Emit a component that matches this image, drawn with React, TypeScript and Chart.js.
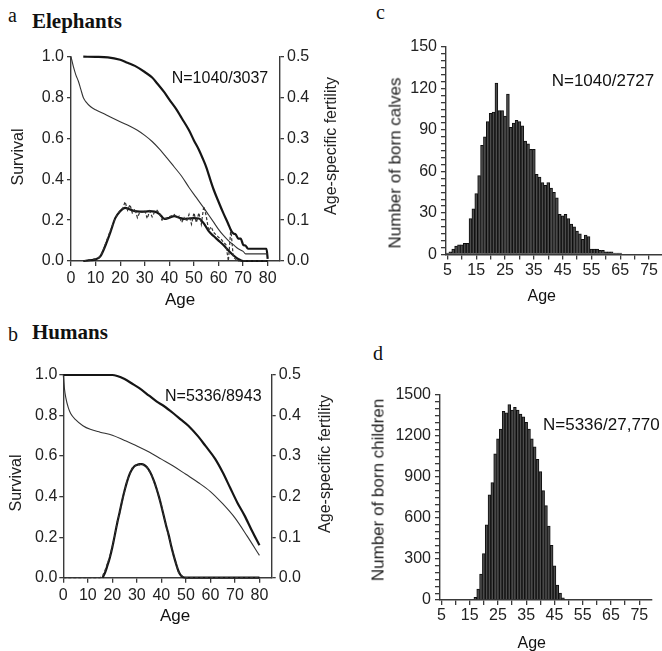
import React, { useEffect, useRef } from 'react';
import { Chart, registerables } from 'chart.js';

Chart.register(...registerables);

// ---------- Panel a: Elephants ----------
const eleBirthAge = [0, 1, 2, 3, 4, 5, 6, 8, 10, 13, 16, 20, 24, 27, 30, 33, 36, 39, 42, 45, 48, 51, 54, 56, 58, 60, 62, 64, 66, 68, 70, 71, 80];
const eleBirthSurv = [1.0, 0.95, 0.91, 0.88, 0.84, 0.8, 0.78, 0.755, 0.74, 0.723, 0.705, 0.682, 0.66, 0.64, 0.615, 0.585, 0.548, 0.505, 0.46, 0.415, 0.36, 0.31, 0.26, 0.225, 0.19, 0.155, 0.125, 0.1, 0.08, 0.06, 0.047, 0.035, 0.035];

const eleAdultAge = [5, 10, 15, 20, 23, 26, 30, 33, 35, 38, 40, 43, 45, 48, 50, 52, 54, 55, 57, 58, 60, 62, 64, 65, 66, 67, 68, 69, 70, 71, 72, 79.5, 80];
const eleAdultSurv = [1.0, 0.999, 0.997, 0.985, 0.97, 0.955, 0.925, 0.898, 0.87, 0.825, 0.79, 0.74, 0.7, 0.64, 0.59, 0.545, 0.49, 0.46, 0.385, 0.35, 0.29, 0.233, 0.18, 0.152, 0.135, 0.13, 0.11, 0.11, 0.08, 0.075, 0.06, 0.06, 0.01];

const eleFertAge = [5, 8, 10, 12, 14, 16, 18, 20, 22, 24, 26, 28, 30, 32, 34, 36, 38, 40, 42, 44, 46, 48, 50, 52, 54, 56, 58, 60, 62, 64, 66, 68, 70, 75, 80];
const eleFertSmooth = [0, 0.002, 0.004, 0.012, 0.038, 0.07, 0.105, 0.122, 0.13, 0.126, 0.122, 0.121, 0.121, 0.122, 0.121, 0.115, 0.103, 0.106, 0.11, 0.106, 0.103, 0.104, 0.105, 0.104, 0.092, 0.073, 0.061, 0.05, 0.039, 0.026, 0.014, 0.005, 0, 0, 0];

const eleFertRawAge = [5, 6, 7, 8, 9, 10, 11, 12, 13, 14, 15, 16, 17, 18, 19, 20, 21, 22, 23, 24, 25, 26, 27, 28, 29, 30, 31, 32, 33, 34, 35, 36, 37, 38, 39, 40, 41, 42, 43, 44, 45, 46, 47, 48, 49, 50, 51, 52, 53, 54, 55, 56, 57, 58, 59, 60, 61, 62, 63, 64, 65, 66, 67, 68, 69, 70, 80];
const eleFertRaw = [0, 0.001, 0.002, 0.003, 0.004, 0.005, 0.007, 0.012, 0.025, 0.042, 0.058, 0.074, 0.09, 0.104, 0.116, 0.124, 0.128, 0.145, 0.124, 0.138, 0.116, 0.128, 0.106, 0.12, 0.119, 0.124, 0.104, 0.122, 0.108, 0.12, 0.124, 0.116, 0.1, 0.104, 0.104, 0.108, 0.111, 0.114, 0.106, 0.11, 0.094, 0.106, 0.097, 0.114, 0.09, 0.118, 0.094, 0.118, 0.09, 0.134, 0.11, 0.074, 0.084, 0.07, 0.064, 0.058, 0.054, 0.046, 0.04, 0.0, 0.078, 0.01, 0.004, 0, 0, 0, 0];

// ---------- Panel b: Humans ----------
const humBirthAge = [0, 0.5, 1, 2, 3, 5, 8, 11, 15, 20, 25, 30, 35, 40, 45, 50, 55, 60, 65, 70, 75, 80];
const humBirthSurv = [1.0, 0.93, 0.89, 0.84, 0.81, 0.78, 0.75, 0.732, 0.718, 0.703, 0.677, 0.65, 0.62, 0.585, 0.55, 0.51, 0.47, 0.425, 0.365, 0.295, 0.205, 0.11];

const humAdultAge = [0, 20, 22, 25, 28, 31, 35, 38, 41, 45, 48, 51, 55, 58, 62, 65, 68, 71, 74, 77, 80];
const humAdultSurv = [1, 1, 0.995, 0.98, 0.958, 0.935, 0.898, 0.87, 0.847, 0.81, 0.78, 0.75, 0.697, 0.65, 0.585, 0.52, 0.445, 0.37, 0.305, 0.23, 0.16];

const humFertAge = [16, 17, 18, 19, 20, 21, 22, 23, 24, 25, 26, 27, 28, 29, 30, 31, 32, 33, 34, 35, 36, 37, 38, 39, 40, 41, 42, 43, 44, 45, 46, 47, 48, 49, 50, 80];
const humFertSmooth = [0, 0.012, 0.03, 0.05, 0.075, 0.105, 0.135, 0.162, 0.19, 0.215, 0.237, 0.255, 0.267, 0.275, 0.278, 0.28, 0.28, 0.278, 0.273, 0.265, 0.253, 0.238, 0.22, 0.2, 0.177, 0.152, 0.127, 0.105, 0.078, 0.055, 0.034, 0.016, 0.005, 0.001, 0, 0];

const humFertRawAge = [0, 15, 16, 17, 18, 19, 20, 21, 22, 23, 24, 25, 26, 27, 28, 29, 30, 31, 32, 33, 34, 35, 36, 37, 38, 39, 40, 41, 42, 43, 44, 45, 46, 47, 48, 49, 50, 80];
const humFertRaw = [0, 0, 0.004, 0.018, 0.035, 0.053, 0.078, 0.104, 0.138, 0.16, 0.192, 0.213, 0.24, 0.253, 0.27, 0.273, 0.281, 0.278, 0.282, 0.276, 0.275, 0.263, 0.255, 0.236, 0.222, 0.198, 0.18, 0.15, 0.128, 0.102, 0.08, 0.054, 0.036, 0.013, 0.007, 0.002, 0, 0];

const survTicks = [0, 0.2, 0.4, 0.6, 0.8, 1.0];
const fertTicks = [0, 0.1, 0.2, 0.3, 0.4, 0.5];
const ageTicks = [0, 10, 20, 30, 40, 50, 60, 70, 80];

// ---------- Panels c, d: histograms ----------
const histAges = [5, 6, 7, 8, 9, 10, 11, 12, 13, 14, 15, 16, 17, 18, 19, 20, 21, 22, 23, 24, 25, 26, 27, 28, 29, 30, 31, 32, 33, 34, 35, 36, 37, 38, 39, 40, 41, 42, 43, 44, 45, 46, 47, 48, 49, 50, 51, 52, 53, 54, 55, 56, 57, 58, 59, 60, 61, 62, 63, 64, 65, 66, 67, 68, 69, 70, 71, 72, 73, 74, 75, 76, 77, 78, 79];
const calves = [1, 2, 4, 6, 7, 7, 8, 8, 26, 33, 44, 57, 79, 85, 96, 102, 103, 124, 104, 104, 100, 116, 92, 95, 97, 96, 93, 82, 80, 76, 76, 58, 56, 52, 50, 52, 48, 45, 41, 29, 28, 29, 26, 22, 20, 17, 15, 11, 14, 13, 4, 4, 4, 3, 3, 2, 2, 2, 1, 1, 1, 0, 0, 0, 0, 0, 0, 0, 0, 0, 0, 0, 0, 0, 0];
const children = [0, 0, 0, 0, 0, 0, 0, 0, 0, 0, 0, 0, 20, 80, 190, 340, 550, 770, 860, 1070, 1180, 1250, 1380, 1370, 1430, 1390, 1410, 1390, 1360, 1340, 1300, 1250, 1180, 1120, 1030, 940, 800, 690, 540, 400, 250, 110, 50, 15, 0, 0, 0, 0, 0, 0, 0, 0, 0, 0, 0, 0, 0, 0, 0, 0, 0, 0, 0, 0, 0, 0, 0, 0, 0, 0, 0, 0, 0, 0, 0];
const calvesLabelTicks = [0, 30, 60, 90, 120, 150];
const childrenLabelTicks = [0, 300, 600, 900, 1200, 1500];

const SANS = '"Liberation Sans", Arial, Helvetica, sans-serif';
const SERIF = '"Liberation Serif", "Times New Roman", serif';
const AX = '#3a3a3a';
const TXT = '#222';

const pts = (xs: number[], ys: number[]) => xs.map((x, i) => ({ x, y: ys[i] }));
const setTicks = (vals: number[]) => (s: any) => {
  s.ticks = vals.map((v) => ({ value: v }));
};
const minorTicks = (max: number, step: number) => {
  const out: number[] = [];
  for (let v = 0; v <= max + 1e-9; v += step) out.push(Math.round(v));
  return out;
};

function axisBase(size: number, tickLength: number, pad: number) {
  return {
    grid: { drawOnChartArea: false, drawTicks: true, tickLength, color: AX, lineWidth: 1.3 },
    border: { display: true, color: AX, width: 1.4 },
    ticks: { color: TXT, font: { family: SANS, size }, padding: pad, maxRotation: 0, minRotation: 0, autoSkip: false },
  };
}

function survivalConfig(d: any, geo: any) {
  const xb = axisBase(16, 5, 3);
  const yb = axisBase(16, 4, 3);
  const y2b = axisBase(16, 4, 3);
  return {
    type: 'line',
    data: {
      datasets: [
        { data: pts(d.birthAge, d.birthSurv), yAxisID: 'y', borderColor: '#333', borderWidth: 1.1, cubicInterpolationMode: 'monotone', clip: false },
        { data: pts(d.adultAge, d.adultSurv), yAxisID: 'y', borderColor: '#151515', borderWidth: 2.2, cubicInterpolationMode: 'monotone', clip: false },
        { data: pts(d.rawAge, d.raw), yAxisID: 'y2', borderColor: '#333', borderWidth: 1.2, borderDash: [3, 2], tension: 0, clip: false },
        { data: pts(d.fertAge, d.fert), yAxisID: 'y2', borderColor: '#151515', borderWidth: 2.2, cubicInterpolationMode: 'monotone', clip: false },
      ],
    },
    options: {
      responsive: false,
      animation: false,
      events: [],
      layout: { padding: { top: geo.top, left: 0, right: 0, bottom: 0 } },
      plugins: { legend: { display: false }, tooltip: { enabled: false }, title: { display: false } },
      elements: { point: { radius: 0 } },
      scales: {
        x: {
          type: 'linear', min: 0, max: 85, position: 'bottom',
          afterBuildTicks: setTicks(ageTicks),
          afterFit: (s: any) => { s.height = geo.xh; },
          ...xb,
          ticks: { ...xb.ticks, callback: (v: number) => String(v) },
        },
        y: {
          type: 'linear', min: 0, max: 1, position: 'left',
          afterBuildTicks: setTicks(survTicks),
          afterFit: (s: any) => { s.width = geo.yw; },
          ...yb,
          ticks: { ...yb.ticks, padding: geo.ypad, callback: (v: number) => v.toFixed(1) },
        },
        y2: {
          type: 'linear', min: 0, max: 0.5, position: 'right',
          afterBuildTicks: setTicks(fertTicks),
          afterFit: (s: any) => { s.width = geo.y2w; },
          ...y2b,
          ticks: { ...y2b.ticks, callback: (v: number) => v.toFixed(1) },
        },
      },
    },
  };
}

function histConfig(values: number[], yMax: number, minorStep: number, labelTicks: number[], geo: any) {
  const xb = axisBase(16, 5, 1);
  const yb = axisBase(16, 5, 4);
  return {
    type: 'bar',
    data: {
      labels: histAges.map(String),
      datasets: [
        {
          data: values,
          backgroundColor: '#4c4c4c',
          borderColor: '#0e0e0e',
          borderWidth: 1,
          barPercentage: 1,
          categoryPercentage: 1,
        },
      ],
    },
    options: {
      responsive: false,
      animation: false,
      events: [],
      layout: { padding: { top: geo.top, left: 0, right: geo.right, bottom: 0 } },
      plugins: { legend: { display: false }, tooltip: { enabled: false }, title: { display: false } },
      scales: {
        x: {
          type: 'category',
          afterFit: (s: any) => { s.height = geo.xh; },
          ...xb,
          grid: {
            ...xb.grid,
            offset: false,
            tickColor: (ctx: any) => (histAges[ctx.index] % 5 === 0 ? AX : 'rgba(0,0,0,0)'),
          },
          ticks: {
            ...xb.ticks,
            callback: (_v: any, i: number) => (histAges[i] % 10 === 5 ? String(histAges[i]) : ''),
          },
        },
        y: {
          type: 'linear', min: 0, max: yMax,
          afterBuildTicks: setTicks(minorTicks(yMax, minorStep)),
          afterFit: (s: any) => { s.width = geo.yw; },
          ...yb,
          ticks: {
            ...yb.ticks,
            callback: (v: number) => (labelTicks.includes(v) ? String(v) : ''),
          },
        },
      },
    },
  };
}

function T(props: { x: number; y: number; fs: number; family?: string; weight?: number; anchor?: string; children: any }) {
  const { x, y, fs, family = SANS, weight = 400, anchor = 'start', children } = props;
  const asc = family === SERIF ? 0.8375 : 0.8465;
  return (
    <div
      style={{
        position: 'absolute', left: x, top: y - asc * fs, fontSize: fs, lineHeight: `${fs}px`,
        fontFamily: family, fontWeight: weight, color: '#111', whiteSpace: 'nowrap',
        transform: anchor === 'middle' ? 'translateX(-50%)' : undefined,
      }}
    >
      {children}
    </div>
  );
}

function V(props: { cx: number; cy: number; fs: number; children: any }) {
  const { cx, cy, fs, children } = props;
  return (
    <div
      style={{
        position: 'absolute', left: cx, top: cy, fontSize: fs, lineHeight: `${fs}px`, fontFamily: SANS,
        color: '#222', whiteSpace: 'nowrap', transform: 'translate(-50%,-50%) rotate(-90deg)',
      }}
    >
      {children}
    </div>
  );
}

export default function App() {
  const ra = useRef<HTMLCanvasElement>(null);
  const rb = useRef<HTMLCanvasElement>(null);
  const rc = useRef<HTMLCanvasElement>(null);
  const rd = useRef<HTMLCanvasElement>(null);

  useEffect(() => {
    const charts: Chart[] = [];
    charts.push(
      new Chart(ra.current as any, survivalConfig(
        { birthAge: eleBirthAge, birthSurv: eleBirthSurv, adultAge: eleAdultAge, adultSurv: eleAdultSurv, rawAge: eleFertRawAge, raw: eleFertRaw, fertAge: eleFertAge, fert: eleFertSmooth },
        { top: 16.7, xh: 49, yw: 71, y2w: 60, ypad: 3 }
      ) as any)
    );
    charts.push(
      new Chart(rb.current as any, survivalConfig(
        { birthAge: humBirthAge, birthSurv: humBirthSurv, adultAge: humAdultAge, adultSurv: humAdultSurv, rawAge: humFertRawAge, raw: humFertRaw, fertAge: humFertAge, fert: humFertSmooth },
        { top: 15, xh: 62.3, yw: 63.3, y2w: 68.3, ypad: 2 }
      ) as any)
    );
    charts.push(new Chart(rc.current as any, histConfig(calves, 150, 5, calvesLabelTicks, { top: 17, right: 0, xh: 55.5, yw: 106 }) as any));
    charts.push(new Chart(rd.current as any, histConfig(children, 1500, 50, childrenLabelTicks, { top: 25, right: 10, xh: 51, yw: 100 }) as any));
    return () => charts.forEach((c) => c.destroy());
  }, []);

  const cv = (left: number, top: number): React.CSSProperties => ({ position: 'absolute', left, top });

  return (
    <div style={{ position: 'absolute', left: 0, top: 0, width: 662, height: 651, overflow: 'hidden', background: '#fff' }}>
      <canvas ref={ra} width={340} height={270} style={cv(0, 40)} />
      <canvas ref={rb} width={340} height={280} style={cv(0, 360)} />
      <canvas ref={rc} width={322} height={280} style={cv(340, 30)} />
      <canvas ref={rd} width={322} height={281} style={cv(340, 370)} />

      <T x={8} y={22} fs={20} family={SERIF}>a</T>
      <T x={32} y={28.5} fs={21} family={SERIF} weight={700}>Elephants</T>
      <T x={8} y={341} fs={20} family={SERIF}>b</T>
      <T x={32} y={340} fs={21} family={SERIF} weight={700}>Humans</T>
      <T x={376} y={19} fs={20} family={SERIF}>c</T>
      <T x={373} y={360} fs={20} family={SERIF}>d</T>

      <T x={171.7} y={83.3} fs={16}>N=1040/3037</T>
      <T x={165} y={402} fs={16}>N=5336/8943</T>
      <T x={551.7} y={86} fs={17}>N=1040/2727</T>
      <T x={543} y={430} fs={17}>N=5336/27,770</T>

      <T x={180} y={305} fs={17} anchor="middle">Age</T>
      <T x={175} y={621.7} fs={17} anchor="middle">Age</T>
      <T x={541.7} y={301.7} fs={16} anchor="middle">Age</T>
      <T x={531.7} y={648.3} fs={16} anchor="middle">Age</T>

      <V cx={18} cy={157} fs={16}>Survival</V>
      <V cx={331} cy={146} fs={16}>Age-specific fertility</V>
      <V cx={16} cy={483} fs={16}>Survival</V>
      <V cx={325} cy={464} fs={16}>Age-specific fertility</V>
      <V cx={395} cy={163} fs={17}>Number of born calves</V>
      <V cx={378} cy={490} fs={17}>Number of born children</V>
    </div>
  );
}
